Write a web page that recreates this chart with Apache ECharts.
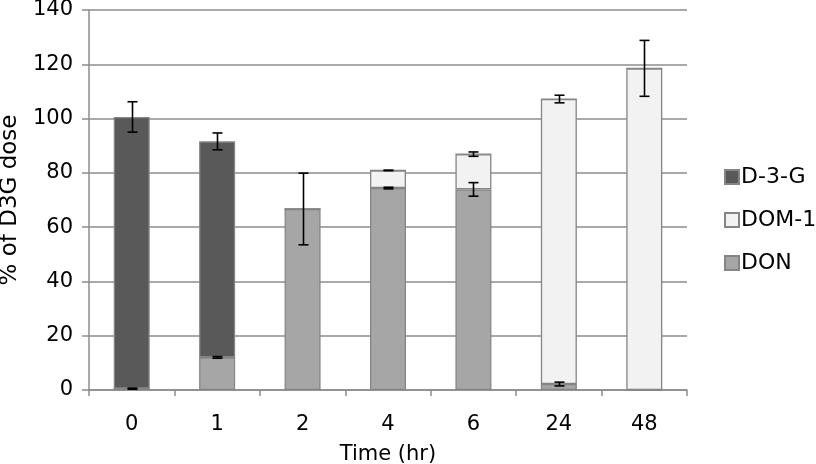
<!DOCTYPE html>
<html><head><meta charset="utf-8">
<script src="https://cdn.jsdelivr.net/npm/echarts@6/dist/echarts.min.js"></script>
<style>html,body{margin:0;padding:0;background:#fff}#c{width:816px;height:464px}</style>
</head><body><div id="c"></div>
<script>
const categories = ['0','1','2','4','6','24','48'];
const yTicks = [0,20,40,60,80,100,120,140];
const donValues  = [0.5, 12.0, 66.7, 74.4, 73.9, 2.2, 0];
const dom1Values = [0, 0, 0, 6.5, 13.0, 105.0, 118.5];
const d3gValues  = [100.1, 79.6, 0, 0, 0, 0, 0];
const donErr  = [0.2, 0.3, 13.2, 0.3, 2.5, 0.7, null];
const dom1Err = [null, null, null, 0.1, 0.8, 1.4, 10.3];
const d3gErr  = [5.6, 3.1, null, null, null, null, null];

const FONT = '"DejaVu Sans", sans-serif';
const chart = echarts.init(document.getElementById('c'), null, {renderer:'canvas'});

function errData(base, vals, errs){
  const out = [];
  for (let i=0;i<categories.length;i++){
    if (errs[i] == null) continue;
    let top = vals[i];
    for (const b of base) top += b[i];
    out.push([i, top, errs[i]]);
  }
  return out;
}
function errSeries(data){
  return {
    type:'custom', silent:true, z:10,
    renderItem:function(params, api){
      const x = api.value(0), y = api.value(1), e = api.value(2);
      const pTop = api.coord([x, y + e]);
      const pBot = api.coord([x, y - e]);
      const cx = Math.round(pTop[0]) + 0.5;
      const w = 5;
      const st = {stroke:'#000', lineWidth:1.6};
      return {type:'group', children:[
        {type:'line', shape:{x1:cx,y1:pTop[1],x2:cx,y2:pBot[1]}, style:st},
        {type:'line', shape:{x1:cx-w,y1:pTop[1],x2:cx+w,y2:pTop[1]}, style:st},
        {type:'line', shape:{x1:cx-w,y1:pBot[1],x2:cx+w,y2:pBot[1]}, style:st}
      ]};
    },
    encode:{x:0,y:1},
    data:data
  };
}
const barBorder = {borderColor:'#858585', borderWidth:1.3};
chart.setOption({
  animation:false,
  backgroundColor:'#fff',
  textStyle:{fontFamily:FONT},
  grid:{left:89, right:129, top:10, bottom:74, containLabel:false, outerBoundsMode:'none'},
  legend:{
    orient:'vertical', left:719, top:161, itemGap:21,
    itemWidth:14, itemHeight:14, icon:'rect',
    data:['D-3-G','DOM-1','DON'],
    textStyle:{fontSize:22, lineHeight:22, color:'#000', fontFamily:FONT, padding:[0,0,0,-3]},
    selectedMode:false
  },
  xAxis:{
    type:'category', data:categories,
    name:'Time (hr)', nameLocation:'middle', nameGap:54,
    nameTextStyle:{fontSize:21, color:'#000', fontFamily:FONT},
    axisLine:{lineStyle:{color:'#8c8c8c', width:1.5}},
    axisTick:{show:true, length:6, lineStyle:{color:'#8c8c8c', width:1.5}},
    axisLabel:{fontSize:21, color:'#000', margin:24, fontFamily:FONT}
  },
  yAxis:{
    type:'value', min:0, max:140, interval:20,
    name:'% of D3G dose', nameLocation:'middle', nameGap:59, nameRotate:90,
    nameTextStyle:{fontSize:23, color:'#000', fontFamily:FONT},
    axisLine:{show:true, lineStyle:{color:'#8c8c8c', width:1.5}},
    axisTick:{show:true, length:7, lineStyle:{color:'#8c8c8c', width:1.5}},
    axisLabel:{fontSize:21, color:'#000', margin:16, fontFamily:FONT,
      formatter:function(v){ return yTicks.indexOf(v)>=0 ? String(v) : ''; }},
    splitLine:{lineStyle:{color:'#8c8c8c', width:1.5}}
  },
  series:[
    {name:'DON', type:'bar', stack:'s', barWidth:36, data:donValues,
      itemStyle:Object.assign({color:'#a6a6a6'}, barBorder)},
    {name:'DOM-1', type:'bar', stack:'s', barWidth:36, data:dom1Values,
      itemStyle:Object.assign({color:'#f2f2f2'}, barBorder)},
    {name:'D-3-G', type:'bar', stack:'s', barWidth:36, data:d3gValues,
      itemStyle:Object.assign({color:'#595959'}, barBorder)},
    errSeries(errData([], donValues, donErr)),
    errSeries(errData([donValues], dom1Values, dom1Err)),
    errSeries(errData([donValues, dom1Values], d3gValues, d3gErr))
  ]
});
</script></body></html>
